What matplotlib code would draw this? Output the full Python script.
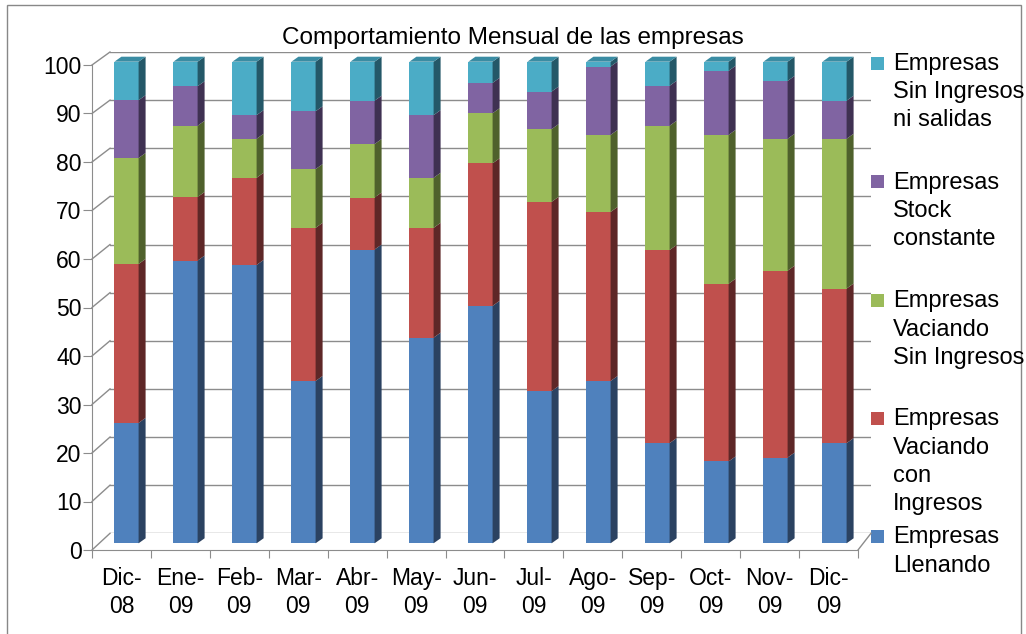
import matplotlib.pyplot as plt
from matplotlib.patches import Polygon, Rectangle
from matplotlib.lines import Line2D
import numpy as np

plt.rcParams['font.family'] = ['Liberation Sans', 'DejaVu Sans']

meses = ['Dic-\n08', 'Ene-\n09', 'Feb-\n09', 'Mar-\n09', 'Abr-\n09', 'May-\n09', 'Jun-\n09',
         'Jul-\n09', 'Ago-\n09', 'Sep-\n09', 'Oct-\n09', 'Nov-\n09', 'Dic-\n09']

# porcentaje de empresas por mes (apilado hasta 100)
llenando = [25.0, 58.7, 57.8, 33.7, 61.0, 42.7, 49.3, 31.6, 33.7, 20.8, 17.0, 17.8, 20.8]
vac_con = [33.0, 13.2, 18.1, 31.8, 10.8, 22.8, 29.6, 39.3, 35.1, 40.1, 36.9, 38.8, 32.1]
vac_sin = [22.0, 14.8, 8.1, 12.2, 11.1, 10.4, 10.4, 15.1, 16.0, 25.8, 30.9, 27.4, 31.1]
stock = [12.0, 8.2, 4.9, 12.0, 9.0, 13.0, 6.3, 7.8, 14.2, 8.3, 13.3, 12.0, 7.9]
sin_ing = [8.0, 5.1, 11.1, 10.3, 8.1, 11.1, 4.4, 6.2, 1.0, 5.0, 1.9, 4.0, 8.1]

series = [
    (llenando, 'Empresas\nLlenando', '#4F81BD', '#2B4261', '#3D6A9E'),
    (vac_con, 'Empresas\nVaciando\ncon\nIngresos', '#C0504D', '#5E2727', '#9A3E3B'),
    (vac_sin, 'Empresas\nVaciando\nSin Ingresos', '#9BBB59', '#4F612C', '#7E9A45'),
    (stock, 'Empresas\nStock\nconstante', '#8064A2', '#3F3152', '#66508A'),
    (sin_ing, 'Empresas\nSin Ingresos\nni salidas', '#4BACC6', '#245868', '#3A8CA3'),
]

W, H = 1026, 634
fig = plt.figure(figsize=(W / 100, H / 100), dpi=100)
grid_c = '#8c8c8c'


def box(x0, x1, ybot, ytop):
    return [x0 / W, (H - ybot) / H, (x1 - x0) / W, (ybot - ytop) / H]


# pared del fondo
ax_back = fig.add_axes(box(110, 871, 533.3, 52))
ax_back.set_xlim(0, 13)
ax_back.set_ylim(0, 100)
ax_back.set_yticks(range(0, 101, 10))
ax_back.grid(axis='y', color=grid_c, lw=1)
ax_back.tick_params(left=False, bottom=False, labelleft=False, labelbottom=False)
for s in ax_back.spines.values():
    s.set_visible(False)
ax_back.patch.set_alpha(0)

# eje frontal con las etiquetas
ax_front = fig.add_axes(box(92, 858, 550, 65))
ax_front.set_xlim(0, 13)
ax_front.set_ylim(0, 100)
ax_front.patch.set_alpha(0)
ax_front.set_yticks(range(0, 101, 10))
ax_front.tick_params(axis='y', labelsize=16.5, length=6.5, pad=1, color=grid_c)
ax_front.set_xticks(np.arange(14))
ax_front.set_xticklabels([])
ax_front.set_xticks(np.arange(13) + 0.5, minor=True)
ax_front.set_xticklabels(meses, minor=True, fontsize=16.5, linespacing=1.3)
ax_front.tick_params(axis='x', which='major', length=6, color=grid_c)
ax_front.tick_params(axis='x', which='minor', length=0, pad=12)
for k in ['top', 'right']:
    ax_front.spines[k].set_visible(False)
for k in ['left', 'bottom']:
    ax_front.spines[k].set_color(grid_c)

# diagonales de la pared izquierda y del suelo
inv = fig.transFigure.inverted()
for v in range(0, 101, 10):
    p0 = inv.transform(ax_front.transData.transform((0, v)))
    p1 = inv.transform(ax_back.transData.transform((0, v)))
    fig.add_artist(Line2D([p0[0], p1[0]], [p0[1], p1[1]], color=grid_c, lw=1))
p0 = inv.transform(ax_front.transData.transform((13, 0)))
p1 = inv.transform(ax_back.transData.transform((13, 0)))
fig.add_artist(Line2D([p0[0], p1[0]], [p0[1], p1[1]], color=grid_c, lw=1))

# barras
ax = fig.add_axes(box(97, 864, 543.3, 61.7))
ax.set_xlim(-0.5, 12.5)
ax.set_ylim(0, 100)
ax.axis('off')
x = np.arange(len(meses))
w = 0.41
ddx = 7 / (767 / 13)
ddy = 5 / (481.6 / 100)
bottom = np.zeros(len(meses))
for k, (vals, lab, c, cs, ct) in enumerate(series):
    vals = np.array(vals)
    ax.bar(x, vals, bottom=bottom, width=w, color=c, lw=0)
    for i in range(len(x)):
        x1 = x[i] + w / 2
        b, t = bottom[i], bottom[i] + vals[i]
        ax.add_patch(Polygon([(x1, b), (x1 + ddx, b + ddy), (x1 + ddx, t + ddy), (x1, t)],
                             closed=True, fc=cs, lw=0, clip_on=False))
        if k == len(series) - 1:
            x0 = x[i] - w / 2
            ax.add_patch(Polygon([(x0, t), (x1, t), (x1 + ddx, t + ddy), (x0 + ddx, t + ddy)],
                                 closed=True, fc=ct, lw=0, clip_on=False))
    bottom = bottom + vals

# titulo
fig.text(513 / W, 1 - 38 / H, 'Comportamiento Mensual de las empresas',
         ha='center', va='center', fontsize=17.5)

# leyenda
ys = [536.5, 418.5, 300.5, 181.5, 63]
for (vals, lab, c, cs, ct), yy in zip(series, ys):
    fig.patches.append(Rectangle((871 / W, 1 - (yy + 6.5) / H), 13 / W, 13 / H,
                                 transform=fig.transFigure, fc=c, lw=0))
    fig.text(893 / W, 1 - (yy - 10) / H, lab, ha='left', va='top', fontsize=17,
             linespacing=1.36)

# borde
fig.patches.append(Rectangle((7 / W, -0.02), 1014 / W, (634 - 5) / H + 0.02,
                             transform=fig.transFigure, fill=False, ec='#888888', lw=1))

fig.savefig('out.png', dpi=100)
